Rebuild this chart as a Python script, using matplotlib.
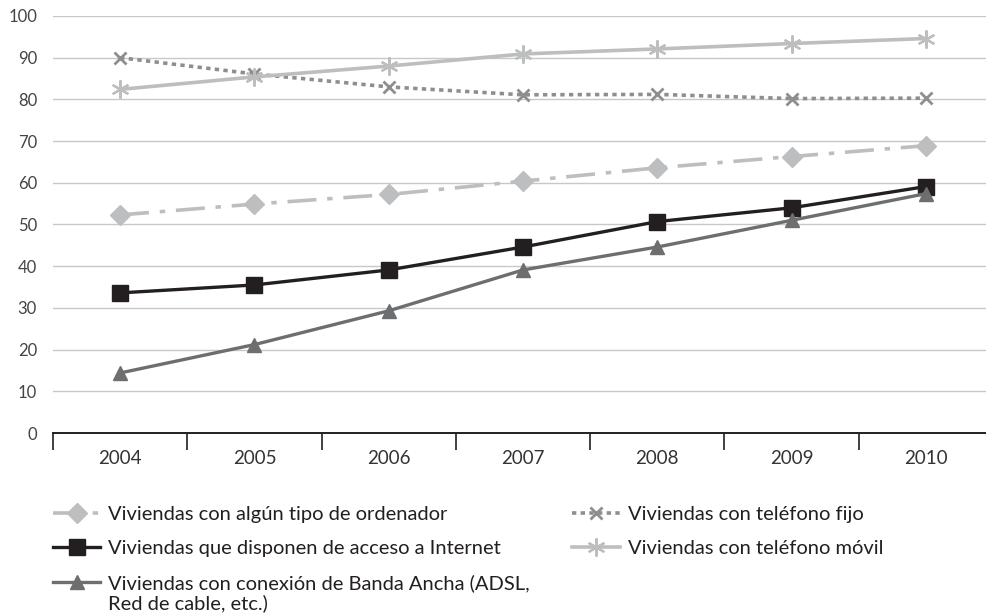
import matplotlib.pyplot as plt
import matplotlib.ticker as tkr

years = ['2004', '2005', '2006', '2007', '2008', '2009', '2010']
ordenador = [52.3, 54.9, 57.2, 60.4, 63.6, 66.3, 68.9]
internet = [33.6, 35.5, 39.1, 44.6, 50.7, 54.0, 59.1]
banda_ancha = [14.4, 21.2, 29.3, 39.1, 44.6, 51.0, 57.4]
fijo = [90.0, 86.1, 83.0, 81.1, 81.2, 80.2, 80.3]
movil = [82.4, 85.4, 88.0, 90.9, 92.1, 93.4, 94.6]

labels = [
    'Viviendas con algún tipo de ordenador',
    'Viviendas que disponen de acceso a Internet',
    'Viviendas con conexión de Banda Ancha (ADSL,',
    'Viviendas con teléfono fijo',
    'Viviendas con teléfono móvil',
]
label_cont = 'Red de cable, etc.)'

plt.rcParams['font.family'] = ['Lato', 'DejaVu Sans']

fig = plt.figure(figsize=(9.86, 6.15), dpi=100)
ax = fig.add_axes([53 / 986, 182 / 615, 940 / 986, 417 / 615])

x = list(range(len(years)))
ax.plot(x, ordenador, color='#bcbec0', lw=2.6, dashes=(8, 3, 1.5, 3),
        marker='D', ms=10, label=labels[0])
ax.plot(x, internet, color='#231f20', lw=2.4,
        marker='s', ms=11, label=labels[1])
ax.plot(x, banda_ancha, color='#6d6e70', lw=2.4,
        marker='^', ms=10, label=labels[2])
ax.plot(x, fijo, color='#8e8e8e', lw=2.6, dashes=(1.2, 1.2), dash_capstyle='butt',
        marker='x', ms=9, mew=2, label=labels[3])
ax.plot(x, movil, color='#bcbec0', lw=2.6,
        marker=(6, 2, 0), ms=13, mew=1.6, label=labels[4])

ax.set_xlim(-0.5, 6.5)
ax.set_ylim(0, 100)
ax.yaxis.set_major_locator(tkr.MultipleLocator(10))
ax.grid(axis='y', color='#c8c8c8', lw=1)
ax.set_axisbelow(True)
for s in ['left', 'right', 'top']:
    ax.spines[s].set_visible(False)
ax.spines['bottom'].set_color('#231f20')
ax.spines['bottom'].set_linewidth(1.4)

ax.set_xticks(x)
ax.set_xticklabels(years)
ax.set_xticks([i - 0.5 for i in range(len(years) + 1)], minor=True)
ax.tick_params(axis='x', which='major', length=0, pad=12, labelsize=13.5, colors='#333333')
ax.tick_params(axis='x', which='minor', length=12, width=1.2, color='#231f20')
ax.tick_params(axis='y', length=0, pad=11.5, labelsize=12, colors='#444444')

leg = ax.legend(ncol=2, loc='upper left', bbox_to_anchor=(53 / 986, 109 / 615),
                bbox_transform=fig.transFigure, frameon=False,
                prop={'size': 14.5},
                handlelength=2.35, handletextpad=0.4, labelspacing=0.84,
                columnspacing=2.1, borderpad=0, borderaxespad=0)
for t in leg.get_texts():
    t.set_color('#231f20')

# second line of the broadband label, placed under the first one
fig.canvas.draw()
bb = leg.get_texts()[2].get_window_extent()
x0, yc = fig.transFigure.inverted().transform((bb.x0, (bb.y0 + bb.y1) / 2))
fig.text(x0, yc - 20 / 615, label_cont, fontsize=14.5, color='#231f20', va='center')

fig.savefig('out.png', dpi=100)
